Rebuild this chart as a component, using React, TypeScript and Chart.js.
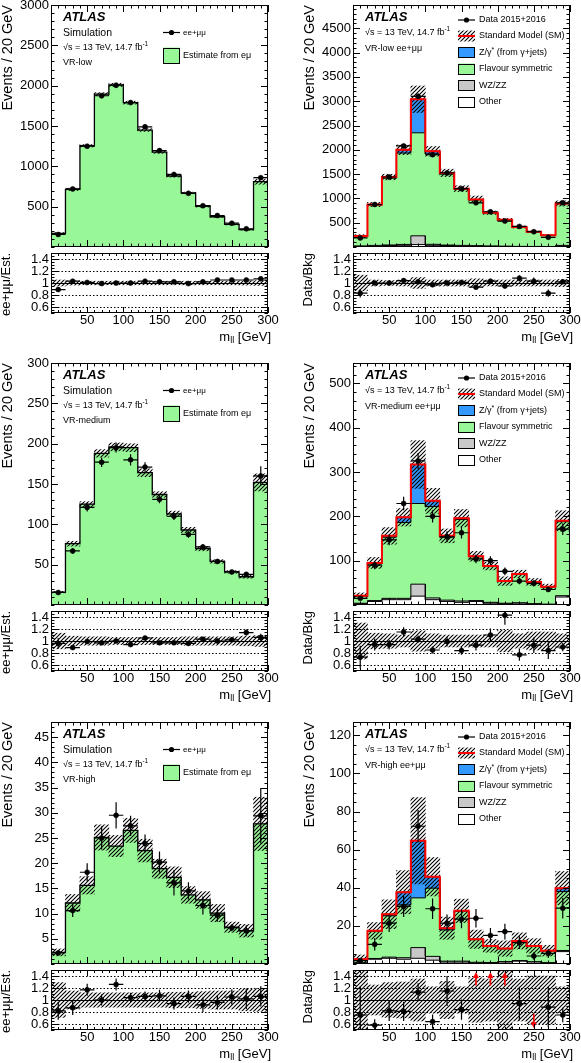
import React, { useEffect, useRef } from 'react';
import { Chart, registerables } from 'chart.js';

Chart.register(...registerables);

const FONT = '"Liberation Sans", Arial, Helvetica, sans-serif';
const GREEN = '#98f898';
const BLUE = '#3399ff';
const GRAY = '#c8c8c8';
const RED = '#ff0000';

// ---------- categories & tick labels ----------
const binEdges = [0, 20, 40, 60, 80, 100, 120, 140, 160, 180, 200, 220, 240, 260, 280, 300];
const binCenters = [10, 30, 50, 70, 90, 110, 130, 150, 170, 190, 210, 230, 250, 270, 290];
const xTickLabels = [50, 100, 150, 200, 250, 300];
const ratioTickLabels = [0.6, 0.8, 1, 1.2, 1.4];
const ratioDottedLines = [0.6, 0.8, 1.2, 1.4];

const lowSimYTicks = [500, 1000, 1500, 2000, 2500, 3000];
const lowYTicks = [500, 1000, 1500, 2000, 2500, 3000, 3500, 4000, 4500];
const medSimYTicks = [50, 100, 150, 200, 250, 300];
const medYTicks = [100, 200, 300, 400, 500];
const highSimYTicks = [5, 10, 15, 20, 25, 30, 35, 40, 45];
const highYTicks = [20, 40, 60, 80, 100, 120];

// ---------- VR-low, simulation ----------
const lowSimEstimate = [170, 715, 1255, 1895, 2010, 1790, 1450, 1175, 880, 670, 505, 375, 280, 215, 810];
const lowSimEstimateUnc = [0.05, 0.02, 0.012, 0.01, 0.01, 0.01, 0.012, 0.012, 0.015, 0.015, 0.02, 0.02, 0.025, 0.03, 0.04];
const lowSimEeMm = [155, 720, 1250, 1875, 2005, 1790, 1490, 1195, 900, 665, 512, 390, 295, 225, 860];
const lowSimEeMmErr = [12, 20, 25, 30, 30, 30, 28, 25, 20, 18, 15, 13, 12, 10, 20];
const lowSimRatio = [0.89, 1.03, 1.01, 0.99, 1.0, 1.0, 1.03, 1.02, 1.02, 0.99, 1.02, 1.05, 1.05, 1.05, 1.07];
const lowSimRatioErr = [0.03, 0.015, 0.01, 0.01, 0.01, 0.01, 0.01, 0.01, 0.015, 0.015, 0.02, 0.02, 0.02, 0.025, 0.02];
const lowSimRatioBand = [0.05, 0.035, 0.03, 0.03, 0.03, 0.03, 0.03, 0.03, 0.03, 0.03, 0.03, 0.03, 0.03, 0.035, 0.04];

// ---------- VR-low, data ----------
const lowOther = [15, 25, 30, 35, 50, 35, 30, 25, 20, 15, 12, 10, 8, 6, 25];
const lowWZZZ = [5, 8, 12, 18, 180, 20, 10, 8, 6, 5, 4, 3, 3, 2, 8];
const lowFlavSym = [200, 830, 1375, 1880, 2120, 1860, 1460, 1150, 945, 680, 540, 390, 300, 230, 855];
const lowZgamma = [5, 12, 23, 67, 690, 55, 25, 17, 9, 5, 4, 7, 4, 2, 7];
const lowData = [187, 875, 1440, 2080, 3100, 1900, 1525, 1200, 910, 725, 533, 424, 315, 200, 910];
const lowDataErr = [14, 30, 38, 46, 56, 44, 39, 35, 30, 27, 23, 21, 18, 14, 30];
const lowBkgUnc = [0.13, 0.05, 0.04, 0.05, 0.09, 0.05, 0.05, 0.05, 0.07, 0.05, 0.05, 0.05, 0.05, 0.05, 0.06];
const lowRatio = [0.83, 1.0, 1.0, 1.04, 1.02, 0.97, 1.0, 1.01, 0.93, 1.03, 0.95, 1.08, 1.03, 0.83, 1.02];
const lowRatioErr = [0.07, 0.035, 0.03, 0.025, 0.02, 0.025, 0.03, 0.03, 0.03, 0.04, 0.04, 0.05, 0.06, 0.06, 0.035];

// ---------- VR-medium, simulation ----------
const medSimEstimate = [16, 76, 125, 188, 196, 195, 164, 137, 113, 93, 70, 54, 41, 35, 152];
const medSimEstimateUnc = [0.06, 0.04, 0.025, 0.025, 0.025, 0.025, 0.03, 0.025, 0.03, 0.035, 0.04, 0.04, 0.04, 0.05, 0.07];
const medSimEeMm = [15.5, 67, 121, 177, 195, 180, 171, 131, 110, 87.5, 72, 54, 41, 38, 160];
const medSimEeMmErr = [2, 3.5, 5, 6, 6, 7, 6, 5, 4.5, 4, 3.5, 3, 2.5, 3, 12];
const medSimRatio = [0.96, 0.89, 0.99, 0.97, 1.0, 0.94, 1.05, 0.97, 0.97, 0.96, 1.03, 1.0, 1.02, 1.14, 1.06];
const medSimRatioErr = [0.09, 0.03, 0.03, 0.03, 0.03, 0.03, 0.03, 0.03, 0.03, 0.03, 0.03, 0.04, 0.04, 0.05, 0.06];
const medSimRatioBand = [0.13, 0.08, 0.07, 0.07, 0.06, 0.06, 0.06, 0.06, 0.06, 0.07, 0.07, 0.07, 0.07, 0.08, 0.09];

// ---------- VR-medium, data ----------
const medOther = [3, 8, 12, 12, 20, 12, 8, 6, 8, 4, 3, 4, 2, 1, 18];
const medWZZZ = [1, 2, 3, 3, 27, 4, 3, 3, 2, 2, 1, 1, 1, 1, 3];
const medFlavSym = [16, 83, 138, 171, 182, 206, 142, 184, 99, 81, 49.5, 64.5, 48.5, 38.5, 167];
const medZgamma = [1, 2, 3, 12, 88, 13, 3, 3, 1, 1, 0.5, 0.5, 0.5, 0.5, 2];
const medData = [15, 90, 147, 229, 325, 200, 154, 163, 104, 100, 76, 54, 49, 35, 171];
const medDataErr = [4, 9.5, 12, 15, 18, 14, 12.4, 12.8, 10, 10, 8.7, 7.3, 7, 5.9, 13];
const medBkgUnc = [0.3, 0.13, 0.12, 0.1, 0.17, 0.12, 0.1, 0.1, 0.1, 0.1, 0.18, 0.12, 0.15, 0.15, 0.12];
const medRatio = [0.73, 0.94, 0.94, 1.15, 1.03, 0.85, 0.99, 0.84, 0.93, 1.1, 1.43, 0.77, 0.93, 0.84, 0.9];
const medRatioErr = [0.19, 0.1, 0.08, 0.08, 0.06, 0.06, 0.08, 0.07, 0.09, 0.11, 0.16, 0.1, 0.13, 0.14, 0.07];

// ---------- VR-high, simulation ----------
const highSimEstimate = [2.3, 12.1, 15.6, 25.1, 23.4, 26.5, 22.5, 18.9, 17.2, 13.7, 12.7, 10.1, 7.3, 6.6, 27.8];
const highSimEstimateUnc = [0.3, 0.14, 0.11, 0.1, 0.09, 0.09, 0.1, 0.1, 0.12, 0.12, 0.13, 0.17, 0.14, 0.19, 0.19];
const highSimEeMm = [2.2, 10.6, 18.2, 25.0, 29.5, 27.4, 23.9, 20.2, 16.1, 14.5, 11.6, 9.7, 7.2, 6.6, 29.4];
const highSimEeMmErr = [0.3, 1.3, 1.8, 2.3, 2.6, 2, 1.8, 2.1, 2.5, 1.7, 1.8, 1.3, 0.7, 1.1, 5.5];
const highSimRatio = [0.82, 0.87, 1.17, 1.0, 1.26, 1.04, 1.06, 1.07, 0.94, 1.06, 0.92, 0.96, 1.05, 1.02, 1.06];
const highSimRatioErr = [0.15, 0.12, 0.1, 0.09, 0.1, 0.08, 0.08, 0.1, 0.1, 0.1, 0.12, 0.12, 0.13, 0.17, 0.17];
const highSimRatioBand = [0.29, 0.15, 0.12, 0.12, 0.12, 0.12, 0.12, 0.12, 0.13, 0.13, 0.14, 0.15, 0.15, 0.18, 0.19];

// ---------- VR-high, data ----------
const highOther = [0.5, 2.5, 3, 2.5, 3, 2, 1, 1, 0.5, 0.5, 1, 1.5, 1, 0.5, 6.5];
const highWZZZ = [0.1, 0.4, 0.6, 0.8, 5.6, 2, 0.5, 0.5, 0.4, 0.3, 0.3, 0.3, 0.2, 0.2, 0.6];
const highFlavSym = [1.8, 14.2, 21.7, 27.7, 26.1, 35.8, 16.4, 26.1, 11.9, 8.5, 6.7, 10.2, 8.2, 6.2, 30.9];
const highZgamma = [0.1, 0.3, 0.8, 6.7, 30, 6, 0.9, 0.3, 0.2, 0.2, 0.1, 0.1, 0.1, 0.1, 1.8];
const highData = [1.8, 10.3, 21.4, 30.2, 72.3, 29, 21.4, 23.5, 24, 15, 17, 11.2, 4.2, 5.6, 29.3];
const highDataErr = [1.3, 3.2, 4.6, 5.5, 8.5, 5.4, 4.6, 4.8, 4.9, 3.9, 4.1, 3.3, 2, 2.4, 5.4];
const highBkgUnc = [0.9, 0.25, 0.29, 0.3, 0.35, 0.22, 0.31, 0.22, 0.37, 0.35, 0.5, 0.35, 0.4, 0.4, 0.22];
const highRatio = [0.75, 0.58, 0.82, 0.81, 1.13, 0.64, 1.15, 0.84, 1.85, 1.58, 2.1, 0.94, 0.44, 0.88, 0.75];
const highRatioErr = [0.48, 0.1, 0.17, 0.16, 0.15, 0.12, 0.25, 0.17, 0.38, 0.41, 0.5, 0.28, 0.2, 0.34, 0.12];

// ---------- layout ----------
const COL_LEFT = [51, 353];
const ROW_TOP = [5, 363, 722];
const PLOT_W = 217;
const MAIN_H = 242;
const RATIO_OFFSET = 248;
const RATIO_H = 60;
const PAD_L = 60;
const PAD_R = 16;
const PAD_T = 12;
const PAD_B = 12;
const Y_AXIS_W = 52;
const X_AXIS_H = 20;

// ---------- helpers ----------
function fontStr(size: number, style?: string) {
  return (style ? style + ' ' : '') + size + 'px ' + FONT;
}

type Part = { t: string; size: number; style?: string; dy?: number };

function drawParts(ctx: CanvasRenderingContext2D, x: number, y: number, parts: Part[], align: 'left' | 'right' = 'left') {
  ctx.textBaseline = 'middle';
  ctx.textAlign = 'left';
  ctx.fillStyle = '#000';
  let total = 0;
  for (const p of parts) {
    ctx.font = fontStr(p.size, p.style);
    total += ctx.measureText(p.t).width;
  }
  let cx = align === 'right' ? x - total : x;
  for (const p of parts) {
    ctx.font = fontStr(p.size, p.style);
    ctx.fillText(p.t, cx, y + (p.dy || 0));
    cx += ctx.measureText(p.t).width;
  }
}

function hatchPattern(ctx: CanvasRenderingContext2D): any {
  const s = 4;
  const c = document.createElement('canvas');
  c.width = s;
  c.height = s;
  const g = c.getContext('2d');
  if (!g) return 'rgba(0,0,0,0.4)';
  g.strokeStyle = '#000';
  g.lineWidth = 1.1;
  g.beginPath();
  g.moveTo(0, s);
  g.lineTo(s, 0);
  g.moveTo(-1, 1);
  g.lineTo(1, -1);
  g.moveTo(s - 1, s + 1);
  g.lineTo(s + 1, s - 1);
  g.stroke();
  return ctx.createPattern(c, 'repeat');
}

function histLine(values: number[]) {
  const pts: { x: number; y: number }[] = [];
  values.forEach((v, i) => {
    pts.push({ x: binEdges[i], y: v });
    pts.push({ x: binEdges[i + 1], y: v });
  });
  return pts;
}

function addArrays(...arrs: number[][]) {
  return arrs[0].map((_, i) => arrs.reduce((s, a) => s + a[i], 0));
}

function band(center: number[], rel: number[]) {
  return center.map((c, i) => ({ x: binCenters[i], y: [c * (1 - rel[i]), c * (1 + rel[i])] }));
}

function points(values: number[]) {
  return values.map((v, i) => ({ x: binCenters[i], y: v }));
}

function pointsDataset(values: number[], err: number[], arrows = false) {
  return {
    type: 'line',
    data: points(values),
    showLine: false,
    pointRadius: 2.5,
    pointBackgroundColor: '#000',
    pointBorderColor: '#000',
    pointBorderWidth: 0.5,
    order: 0,
    errY: err,
    arrows,
  };
}

function histDataset(values: number[], fill: string | null, border: string, width: number, order: number) {
  return {
    type: 'line',
    data: histLine(values),
    backgroundColor: fill || 'transparent',
    borderColor: border,
    borderWidth: width,
    fill: fill ? 'origin' : false,
    pointRadius: 0,
    tension: 0,
    order,
  };
}

function bandDataset(center: number[], rel: number[], pattern: any) {
  return {
    type: 'bar',
    data: band(center, rel),
    backgroundColor: pattern,
    borderWidth: 0,
    barPercentage: 1,
    categoryPercentage: 1,
    order: 2,
  };
}

// ---------- plugins ----------
const errorBarPlugin = {
  id: 'errorBars',
  beforeDatasetDraw(chart: any, args: any) {
    const ds = chart.data.datasets[args.index];
    if (!ds.errY) return;
    const { ctx, chartArea: a, scales } = chart;
    const x = scales.x;
    const y = scales.y;
    ctx.save();
    ctx.beginPath();
    ctx.rect(a.left, a.top, a.right - a.left, a.bottom - a.top);
    ctx.clip();
    ctx.strokeStyle = '#000';
    ctx.lineWidth = 1.2;
    ctx.beginPath();
    ds.data.forEach((p: any, i: number) => {
      if (p.y > y.max || p.y < y.min) return;
      const px = x.getPixelForValue(p.x);
      const py = y.getPixelForValue(p.y);
      ctx.moveTo(x.getPixelForValue(binEdges[i]), py);
      ctx.lineTo(x.getPixelForValue(binEdges[i + 1]), py);
      ctx.moveTo(px, y.getPixelForValue(p.y - ds.errY[i]));
      ctx.lineTo(px, y.getPixelForValue(p.y + ds.errY[i]));
    });
    ctx.stroke();
    ctx.restore();
  },
  afterDatasetDraw(chart: any, args: any) {
    const ds = chart.data.datasets[args.index];
    if (!ds.arrows) return;
    const { ctx, scales } = chart;
    const x = scales.x;
    const y = scales.y;
    const range = y.max - y.min;
    ctx.save();
    ctx.strokeStyle = RED;
    ctx.fillStyle = RED;
    ctx.lineWidth = 1.6;
    ds.data.forEach((p: any) => {
      let from: number | null = null;
      let to: number | null = null;
      if (p.y > y.max) {
        from = y.max - 0.26 * range;
        to = y.max - 0.035 * range;
      } else if (p.y < y.min) {
        from = y.min + 0.27 * range;
        to = y.min + 0.03 * range;
      }
      if (from === null || to === null) return;
      const px = x.getPixelForValue(p.x);
      const pf = y.getPixelForValue(from);
      const pt = y.getPixelForValue(to);
      const dir = pt < pf ? -1 : 1;
      ctx.beginPath();
      ctx.moveTo(px, pf);
      ctx.lineTo(px, pt - dir * 4);
      ctx.stroke();
      ctx.beginPath();
      ctx.moveTo(px, pt);
      ctx.lineTo(px - 3, pt - dir * 6);
      ctx.lineTo(px + 3, pt - dir * 6);
      ctx.closePath();
      ctx.fill();
    });
    ctx.restore();
  },
};

function framePlugin(opts: { yMajor: number[]; yMinorStep: number; xLen: number[]; yLen: number[]; ratioLines?: boolean }) {
  return {
    id: 'atlasFrame',
    beforeDatasetsDraw(chart: any) {
      if (!opts.ratioLines) return;
      const { ctx, chartArea: a, scales } = chart;
      const y = scales.y;
      ctx.save();
      ctx.strokeStyle = '#000';
      ctx.lineWidth = 1;
      ctx.setLineDash([1.5, 2]);
      ratioDottedLines.forEach((v) => {
        const py = Math.round(y.getPixelForValue(v)) + 0.5;
        ctx.beginPath();
        ctx.moveTo(a.left, py);
        ctx.lineTo(a.right, py);
        ctx.stroke();
      });
      ctx.setLineDash([]);
      const p1 = Math.round(y.getPixelForValue(1)) + 0.5;
      ctx.beginPath();
      ctx.moveTo(a.left, p1);
      ctx.lineTo(a.right, p1);
      ctx.stroke();
      ctx.restore();
    },
    afterDraw(chart: any) {
      const { ctx, chartArea: a, scales } = chart;
      const x = scales.x;
      const y = scales.y;
      ctx.save();
      ctx.strokeStyle = '#000';
      ctx.lineWidth = 1;
      ctx.beginPath();
      const nx = Math.round((x.max - x.min) / 10);
      for (let k = 0; k <= nx; k++) {
        const v = x.min + k * 10;
        const major = v % 50 === 0;
        const len = major ? opts.xLen[0] : opts.xLen[1];
        const px = Math.round(x.getPixelForValue(v)) + 0.5;
        ctx.moveTo(px, a.bottom);
        ctx.lineTo(px, a.bottom - len);
        ctx.moveTo(px, a.top);
        ctx.lineTo(px, a.top + len);
      }
      const ny = Math.floor((y.max - y.min) / opts.yMinorStep + 1e-6);
      for (let k = 0; k <= ny; k++) {
        const v = y.min + k * opts.yMinorStep;
        const major = opts.yMajor.some((m) => Math.abs(m - v) < 1e-6 * Math.max(1, Math.abs(m)));
        const len = major ? opts.yLen[0] : opts.yLen[1];
        const py = Math.round(y.getPixelForValue(v)) + 0.5;
        ctx.moveTo(a.left, py);
        ctx.lineTo(a.left + len, py);
        ctx.moveTo(a.right, py);
        ctx.lineTo(a.right - len, py);
      }
      ctx.stroke();
      ctx.strokeRect(Math.round(a.left) + 0.5, Math.round(a.top) + 0.5, Math.round(a.right - a.left) - 1, Math.round(a.bottom - a.top) - 1);
      ctx.restore();
    },
  };
}

function decorPlugin(draw: (ctx: CanvasRenderingContext2D, a: any) => void) {
  return {
    id: 'decor',
    afterDraw(chart: any) {
      const ctx = chart.ctx;
      ctx.save();
      draw(ctx, chart.chartArea);
      ctx.restore();
    },
  };
}

// ---------- scales ----------
function xAxis(show: boolean) {
  return {
    type: 'linear',
    min: 0,
    max: 300,
    offset: false,
    display: show,
    afterBuildTicks: (s: any) => {
      s.ticks = xTickLabels.map((v) => ({ value: v }));
    },
    afterFit: (s: any) => {
      if (show) s.height = X_AXIS_H;
    },
    grid: { display: false, drawTicks: false, offset: false },
    border: { display: false },
    ticks: {
      font: { family: FONT, size: 13 },
      color: '#000',
      padding: 0,
      maxRotation: 0,
      autoSkip: false,
      callback: (v: any) => String(v),
    },
  };
}

function yAxis(min: number, max: number, ticks: number[], title: string, titleSize: number) {
  return {
    type: 'linear',
    min,
    max,
    afterBuildTicks: (s: any) => {
      s.ticks = ticks.map((v) => ({ value: v }));
    },
    afterFit: (s: any) => {
      s.width = Y_AXIS_W;
    },
    grid: { display: false, drawTicks: false },
    border: { display: false },
    ticks: {
      font: { family: FONT, size: 13 },
      color: '#000',
      padding: 2,
      autoSkip: false,
      callback: (v: any) => String(v),
    },
    title: {
      display: true,
      text: title,
      font: { family: FONT, size: titleSize },
      color: '#000',
      align: 'end',
      padding: 0,
    },
  };
}

function baseConfig(datasets: any[], scales: any, plugins: any[]) {
  return {
    type: 'line',
    data: { datasets },
    options: {
      responsive: false,
      animation: false,
      events: [],
      layout: { padding: { left: PAD_L - Y_AXIS_W, right: PAD_R, top: PAD_T, bottom: PAD_B } },
      plugins: { legend: { display: false }, tooltip: { enabled: false } },
      scales,
    },
    plugins,
  };
}

// ---------- decorations ----------
const atlasParts: Part[] = [{ t: 'ATLAS', size: 13, style: 'italic bold' }];
const sqrtSParts: Part[] = [
  { t: '√s = 13 TeV, 14.7 fb', size: 9 },
  { t: '-1', size: 6.5, dy: -3.5 },
];

function legendPoint(ctx: CanvasRenderingContext2D, x0: number, x1: number, y: number) {
  ctx.strokeStyle = '#000';
  ctx.lineWidth = 1.2;
  ctx.beginPath();
  ctx.moveTo(x0, y);
  ctx.lineTo(x1, y);
  ctx.stroke();
  ctx.fillStyle = '#000';
  ctx.beginPath();
  ctx.arc((x0 + x1) / 2, y, 2.6, 0, Math.PI * 2);
  ctx.fill();
}

function legendBox(ctx: CanvasRenderingContext2D, x0: number, x1: number, y0: number, y1: number, fill: any, border = true) {
  ctx.fillStyle = fill;
  ctx.fillRect(x0, y0, x1 - x0, y1 - y0);
  if (border) {
    ctx.strokeStyle = '#000';
    ctx.lineWidth = 1;
    ctx.strokeRect(Math.round(x0) + 0.5, Math.round(y0) + 0.5, Math.round(x1 - x0) - 1, Math.round(y1 - y0) - 1);
  }
}

function simDecor(region: string) {
  return (ctx: CanvasRenderingContext2D, a: any) => {
    const L = a.left;
    const T = a.top;
    drawParts(ctx, L + 12, T + 12, atlasParts);
    drawParts(ctx, L + 12, T + 28, [{ t: 'Simulation', size: 10.5 }]);
    drawParts(ctx, L + 12, T + 43, sqrtSParts);
    drawParts(ctx, L + 12, T + 58, [{ t: region, size: 9 }]);
    legendPoint(ctx, L + 112, L + 129, T + 27.5);
    drawParts(ctx, L + 132, T + 27.5, [{ t: 'ee+μμ', size: 8 }]);
    legendBox(ctx, L + 112, L + 129, T + 42.5, T + 58.5, GREEN);
    drawParts(ctx, L + 132, T + 50.5, [{ t: 'Estimate from eμ', size: 9 }]);
  };
}

function dataDecor(region: string, pattern: any) {
  return (ctx: CanvasRenderingContext2D, a: any) => {
    const L = a.left;
    const T = a.top;
    drawParts(ctx, L + 12, T + 12, atlasParts);
    drawParts(ctx, L + 12, T + 27.5, sqrtSParts);
    drawParts(ctx, L + 12, T + 44, [{ t: region, size: 9 }]);
    const rows = [15, 31, 47.5, 64, 80.5, 97];
    const bx0 = L + 105;
    const bx1 = L + 122;
    const tx = L + 126;
    const h = 5.5;
    legendPoint(ctx, bx0, bx1, T + rows[0]);
    drawParts(ctx, tx, T + rows[0], [{ t: 'Data 2015+2016', size: 9 }]);
    legendBox(ctx, bx0, bx1, T + rows[1] - h, T + rows[1] + h, pattern, false);
    ctx.strokeStyle = RED;
    ctx.lineWidth = 2;
    ctx.beginPath();
    ctx.moveTo(bx0, T + rows[1]);
    ctx.lineTo(bx1, T + rows[1]);
    ctx.stroke();
    drawParts(ctx, tx, T + rows[1], [{ t: 'Standard Model (SM)', size: 9 }]);
    legendBox(ctx, bx0, bx1, T + rows[2] - h, T + rows[2] + h, BLUE);
    drawParts(ctx, tx, T + rows[2], [
      { t: 'Z/γ', size: 9 },
      { t: '*', size: 7, dy: -2.5 },
      { t: ' (from γ+jets)', size: 9 },
    ]);
    legendBox(ctx, bx0, bx1, T + rows[3] - h, T + rows[3] + h, GREEN);
    drawParts(ctx, tx, T + rows[3], [{ t: 'Flavour symmetric', size: 9 }]);
    legendBox(ctx, bx0, bx1, T + rows[4] - h, T + rows[4] + h, GRAY);
    drawParts(ctx, tx, T + rows[4], [{ t: 'WZ/ZZ', size: 9 }]);
    legendBox(ctx, bx0, bx1, T + rows[5] - h, T + rows[5] + h, '#ffffff');
    drawParts(ctx, tx, T + rows[5], [{ t: 'Other', size: 9 }]);
  };
}

function mllTitle(ctx: CanvasRenderingContext2D, a: any) {
  drawParts(
    ctx,
    a.right + 3,
    a.bottom + 24,
    [
      { t: 'm', size: 13 },
      { t: 'll', size: 9, dy: 3.5 },
      { t: ' [GeV]', size: 13 },
    ],
    'right'
  );
}

// ---------- chart builders ----------
type SimSpec = {
  region: string;
  estimate: number[];
  unc: number[];
  eemm: number[];
  err: number[];
  yMax: number;
  yTicks: number[];
  yMinor: number;
};

type DataSpec = {
  region: string;
  other: number[];
  wz: number[];
  fs: number[];
  z: number[];
  unc: number[];
  data: number[];
  err: number[];
  yMax: number;
  yTicks: number[];
  yMinor: number;
};

function simMain(s: SimSpec) {
  return (ctx: CanvasRenderingContext2D) => {
    const pattern = hatchPattern(ctx);
    const datasets = [
      pointsDataset(s.eemm, s.err),
      bandDataset(s.estimate, s.unc, pattern),
      histDataset(s.estimate, GREEN, '#000', 1.3, 3),
    ];
    return baseConfig(
      datasets,
      { x: xAxis(false), y: yAxis(0, s.yMax, s.yTicks, 'Events / 20 GeV', 14.5) },
      [errorBarPlugin, framePlugin({ yMajor: s.yTicks, yMinorStep: s.yMinor, xLen: [7, 3.5], yLen: [7, 3.5] }), decorPlugin(simDecor(s.region))]
    );
  };
}

function dataMain(s: DataSpec) {
  return (ctx: CanvasRenderingContext2D) => {
    const pattern = hatchPattern(ctx);
    const total = addArrays(s.other, s.wz, s.fs, s.z);
    const datasets = [
      pointsDataset(s.data, s.err),
      histDataset(total, null, RED, 2, 1),
      bandDataset(total, s.unc, pattern),
      histDataset(s.other, '#ffffff', '#000', 1, 3),
      histDataset(addArrays(s.other, s.wz), GRAY, '#000', 1, 4),
      histDataset(addArrays(s.other, s.wz, s.fs), GREEN, '#000', 1, 5),
      histDataset(total, BLUE, '#000', 1, 6),
    ];
    return baseConfig(
      datasets,
      { x: xAxis(false), y: yAxis(0, s.yMax, s.yTicks, 'Events / 20 GeV', 14.5) },
      [errorBarPlugin, framePlugin({ yMajor: s.yTicks, yMinorStep: s.yMinor, xLen: [7, 3.5], yLen: [7, 3.5] }), decorPlugin(dataDecor(s.region, pattern))]
    );
  };
}

function ratioChart(ratio: number[], err: number[], bandRel: number[], title: string, arrows: boolean) {
  return (ctx: CanvasRenderingContext2D) => {
    const pattern = hatchPattern(ctx);
    const ones = ratio.map(() => 1);
    const datasets = [pointsDataset(ratio, err, arrows), bandDataset(ones, bandRel, pattern)];
    return baseConfig(
      datasets,
      { x: xAxis(true), y: yAxis(0.5, 1.5, ratioTickLabels, title, 13) },
      [
        errorBarPlugin,
        framePlugin({ yMajor: ratioTickLabels, yMinorStep: 0.05, xLen: [6, 3], yLen: [7, 3.5], ratioLines: true }),
        decorPlugin(mllTitle),
      ]
    );
  };
}

// ---------- panels ----------
const simSpecs: SimSpec[] = [
  { region: 'VR-low', estimate: lowSimEstimate, unc: lowSimEstimateUnc, eemm: lowSimEeMm, err: lowSimEeMmErr, yMax: 3000, yTicks: lowSimYTicks, yMinor: 100 },
  { region: 'VR-medium', estimate: medSimEstimate, unc: medSimEstimateUnc, eemm: medSimEeMm, err: medSimEeMmErr, yMax: 300, yTicks: medSimYTicks, yMinor: 10 },
  { region: 'VR-high', estimate: highSimEstimate, unc: highSimEstimateUnc, eemm: highSimEeMm, err: highSimEeMmErr, yMax: 48, yTicks: highSimYTicks, yMinor: 1 },
];

const dataSpecs: DataSpec[] = [
  { region: 'VR-low ee+μμ', other: lowOther, wz: lowWZZZ, fs: lowFlavSym, z: lowZgamma, unc: lowBkgUnc, data: lowData, err: lowDataErr, yMax: 4980, yTicks: lowYTicks, yMinor: 100 },
  { region: 'VR-medium ee+μμ', other: medOther, wz: medWZZZ, fs: medFlavSym, z: medZgamma, unc: medBkgUnc, data: medData, err: medDataErr, yMax: 546, yTicks: medYTicks, yMinor: 20 },
  { region: 'VR-high ee+μμ', other: highOther, wz: highWZZZ, fs: highFlavSym, z: highZgamma, unc: highBkgUnc, data: highData, err: highDataErr, yMax: 127, yTicks: highYTicks, yMinor: 5 },
];

const simRatios = [
  { ratio: lowSimRatio, err: lowSimRatioErr, band: lowSimRatioBand },
  { ratio: medSimRatio, err: medSimRatioErr, band: medSimRatioBand },
  { ratio: highSimRatio, err: highSimRatioErr, band: highSimRatioBand },
];

const dataRatios = [
  { ratio: lowRatio, err: lowRatioErr, band: lowBkgUnc },
  { ratio: medRatio, err: medRatioErr, band: medBkgUnc },
  { ratio: highRatio, err: highRatioErr, band: highBkgUnc },
];

type BoxProps = { left: number; top: number; width: number; height: number; build: (ctx: CanvasRenderingContext2D) => any };

function ChartBox({ left, top, width, height, build }: BoxProps) {
  const ref = useRef<HTMLCanvasElement | null>(null);
  useEffect(() => {
    const canvas = ref.current;
    if (!canvas) return;
    const ctx = canvas.getContext('2d');
    if (!ctx) return;
    const chart = new Chart(ctx, build(ctx));
    return () => chart.destroy();
  }, []);
  return (
    <canvas
      ref={ref}
      width={width}
      height={height}
      style={{ position: 'absolute', left, top, width, height, display: 'block' }}
    />
  );
}

export default function App() {
  const boxes: BoxProps[] = [];
  ROW_TOP.forEach((T, r) => {
    COL_LEFT.forEach((L, c) => {
      const mainBuild = c === 0 ? simMain(simSpecs[r]) : dataMain(dataSpecs[r]);
      boxes.push({
        left: L - PAD_L,
        top: T - PAD_T,
        width: PLOT_W + PAD_L + PAD_R,
        height: MAIN_H + PAD_T + PAD_B,
        build: mainBuild,
      });
      const rs = c === 0 ? simRatios[r] : dataRatios[r];
      boxes.push({
        left: L - PAD_L,
        top: T + RATIO_OFFSET - PAD_T,
        width: PLOT_W + PAD_L + PAD_R,
        height: RATIO_H + PAD_T + X_AXIS_H + PAD_B,
        build: ratioChart(rs.ratio, rs.err, rs.band, c === 0 ? 'ee+μμ/Est.' : 'Data/Bkg', c === 1),
      });
    });
  });
  return (
    <div
      style={{
        position: 'absolute',
        left: 0,
        top: 0,
        width: 581,
        height: 1063,
        overflow: 'hidden',
        background: '#ffffff',
      }}
    >
      {boxes.map((b, i) => (
        <ChartBox key={i} {...b} />
      ))}
    </div>
  );
}
